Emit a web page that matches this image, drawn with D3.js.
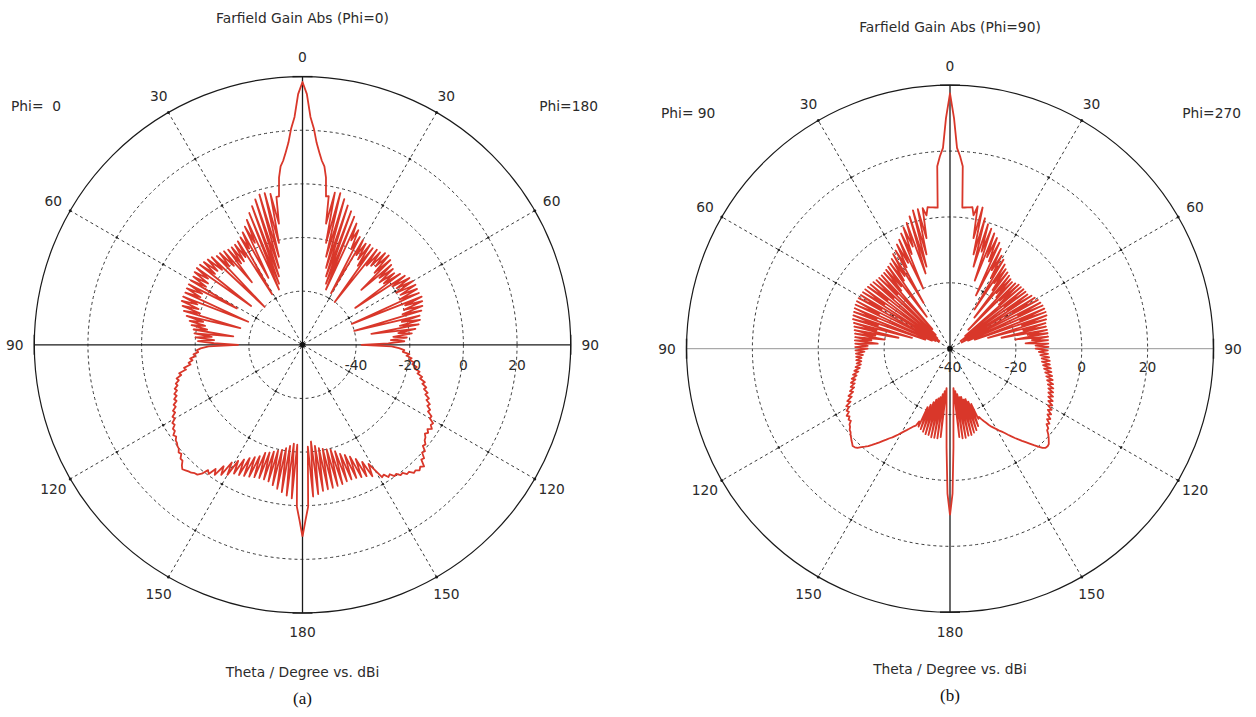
<!DOCTYPE html>
<html><head><meta charset="utf-8">
<script src="https://cdn.jsdelivr.net/npm/d3@7"></script>
<style>body{margin:0;background:#fff}svg{display:block}text{white-space:pre}</style>
</head><body>
<svg id="chart" width="1256" height="717"></svg>
<script>
// ---- data: gain (dBi) vs theta, 1 degree steps 0..180 ----
const thetaStepDeg = 1;
// (a) Phi=0 half (drawn on the left) and Phi=180 half (right)
const aLeft = [
38,33.5,25,20.8,15.5,12,9,7,2.9,-4,
-4,-14,-2.5,-21,-1.7,-26,-1.7,-30,-3,-33,
-5,-35.6,-7,-37.6,-9,-18,-11,-32,-12.5,-19,
-13.8,-38,-14.5,-21,-15,-22,-15.1,-22,-15,-30,
-14.5,-21,-14,-20,-14,-40,-13,-19,-12.5,-18,
-12,-18,-11.5,-36,-11.3,-17,-11.5,-18,-12,-18,
-12,-32,-12,-18,-12,-18,-12.2,-38,-12,-18,
-12.1,-19,-13,-20,-14,-36,-15.5,-22,-17,-23,
-18,-24,-19,-34,-19.5,-26,-20,-27,-21,-27,
-36,-25,-22,-20.5,-21,-19.2,-19.8,-17.8,-18.6,-17,
-17.6,-15,-15.6,-12.8,-13.4,-11.4,-12,-10.6,-11,-9.6,
-10.2,-8.8,-9.4,-8,-8.6,-7,-7.4,-5.8,-6.2,-4.6,
-5,-3.4,-3.8,-2.4,-2.6,-1.2,-1.8,-0.8,-0.6,0,
0.2,1.2,0.8,2.2,2.2,3.6,4.5,4,3.5,3.2,
2.5,2.3,1,-1.5,-0.5,-3.5,-1.5,-6,-2.8,-8.8,
-4,-10.5,-5.6,-12,-6,-13.4,-6.5,-14.5,-7,-15.5,
-7.5,-17.4,-7.8,-18,-7.8,-18.8,-7.5,-19.5,-6.5,-20.1,
-5.5,-21,-4.5,-22,-3.5,-23,-2.6,-22.7,0.4,5.3,
11.5];
const aRight = [
38,33.5,25,20.8,15.5,12,9,7,2.9,-4,
-3.7,-14,-2,-21,-1.7,-26,-3.5,-30,-5.4,-33,
-7,-35.6,-8.5,-37.6,-10.5,-17,-12.5,-20,-14.5,-38,
-15,-21,-15.5,-22,-15,-24,-15.5,-40,-15,-22,
-15,-21,-14,-20,-13.7,-22,-14.5,-30,-15.5,-22,
-16,-23,-16.6,-22,-15,-36,-14,-20,-13,-19,
-12.5,-20,-12.3,-19,-12.5,-20,-12.5,-40,-12.1,-19,
-12.5,-20,-13,-21,-13.9,-40,-15,-22,-15.2,-23,
-16,-34,-17.5,-24,-19,-26,-21,-27,-22,-28,
-38,-26.8,-24,-22,-22.5,-20,-21,-19,-19.8,-17.8,
-18.4,-16.6,-17.2,-15.2,-15.8,-13.8,-14.4,-12.3,-13,-11.2,
-11.8,-10,-10.6,-8.8,-9.4,-7.6,-8.2,-6.6,-7,-5,
-5.2,-3.2,-3.6,-2.5,-3.8,-2.8,-3.6,-2.6,-2.2,-1,
-1.4,0.5,0,2,1.6,4.1,3.2,4,3,3.3,
1.8,2,0.6,0.8,-0.5,-0.2,-1.8,-1.2,-2.9,-2.4,
-6,-9.2,-4.5,-11,-5.5,-13,-6,-14.7,-6.5,-16,
-6.6,-17,-6.5,-18.5,-6,-19.5,-5.8,-20,-5.5,-20.5,
-5.3,-21,-5,-22,-4,-23.8,-3.3,-22,0.4,5.3,
11.5];
// (b) Phi=90 half (left) and Phi=270 half (right)
const bLeft = [
37.5,30,21,18.5,15.5,3,3.1,3.2,3.3,3.5,
1.1,3.5,-5.7,3.5,-10.5,3.5,-14.1,2,-16,0.4,
-7,-0.5,-9,-2,-20,-3.5,-11,-4.5,-12,-5.9,
-24,-6.5,-14,-7.5,-15,-8.4,-28,-8.8,-16,-9.2,
-17,-9.5,-32,-9.6,-17,-9.6,-34,-9.5,-17,-9.2,
-35,-9,-16,-8.8,-36,-8.6,-16,-8.5,-36,-8.4,
-16,-8.3,-35,-8.3,-16,-8.4,-34,-8.6,-16,-8.8,
-32,-9,-17,-9.2,-28,-9.8,-17,-10.2,-24,-10.5,
-17,-10.8,-20,-11,-16,-11,-18,-11.2,-15,-11.2,
-15,-11.3,-14,-11.4,-13.5,-11.4,-13,-11.3,-12.8,-11.3,
-12.5,-10.8,-12,-10.2,-11.3,-9.5,-10.5,-8.8,-9.8,-8.2,
-9.2,-7.7,-8.6,-7,-7.8,-6,-6.8,-5,-5.8,-4,
-4.6,-3.4,-3.8,-2.6,-3.2,-2.4,-2.8,-1.8,-1.5,-0.8,
-0.6,0,0.4,0.9,1.3,1.8,1.6,1.2,0.2,-0.6,
-1.4,-2.4,-3.4,-4.4,-5.4,-6.3,-7.2,-7.9,-8.8,-9.6,
-10.5,-11.3,-12,-12.7,-13.4,-14,-14.4,-16,-14.5,-21,
-14,-22,-13.5,-23,-13,-24,-13,-24.5,-12.5,-25,
-12.5,-26,-12.5,-27,-13,-28,-25,-20,-10,4,
10.5];
const bRight = [
37.5,30,21,18.5,15.5,3,3.1,3.2,3.3,3.5,
1.1,4,-5.7,4,-10.5,1,-14.1,-0.5,-9,-1.5,
-18,-2.5,-10,-3.5,-11,-4.5,-22,-6,-13,-7.7,
-15,-8.5,-26,-9.5,-16,-10.5,-18,-11,-28,-11.5,
-18,-12,-19,-12.4,-32,-12,-19,-11.5,-20,-11.5,
-34,-11.3,-19,-11.3,-36,-11.3,-19,-10.5,-35,-10,
-18,-9.5,-36,-9.2,-17,-9,-34,-8.9,-17,-8.9,
-32,-9,-17,-9.5,-28,-10,-17,-10.1,-24,-10,
-16,-10,-20,-10,-15,-10.1,-17,-10.1,-14,-10.1,
-14,-10.3,-13,-10.2,-12.5,-9.8,-12,-9.5,-11.8,-9.3,
-11.3,-8.8,-10.8,-8.4,-10.2,-7.9,-9.6,-7.4,-9,-6.9,
-8.4,-6.4,-7.8,-6,-7.3,-5.5,-6.8,-5,-6.2,-4.5,
-5.6,-4,-5,-3.4,-4.3,-2.8,-3.6,-2.2,-2.8,-1.6,
-1.5,-0.5,0.3,1,1.7,1.9,1.8,1.2,0,-1.2,
-2.4,-3.5,-4.5,-5.5,-6.5,-7.5,-8.5,-9.5,-10.3,-11,
-11.8,-12.5,-13.2,-14,-15,-15.8,-16.6,-17.5,-17,-22,
-15,-23,-14,-24,-13.5,-24,-13,-25,-13,-25,
-12.5,-26,-12.5,-27,-13,-28,-25,-20,-10,4,
10.5];

const angleTicks = [0, 30, 60, 90, 120, 150, 180];
const spokeAngles = [30, 60, 120, 150];
const gridCirclesA = [-40, -20, 0, 20];
const gridCirclesB = [-20, 0, 20];
const radialLabelsA = [-40, -20, 0, 20];
const radialLabelsB = [-40, -20, 0, 20];
const titles = ["Farfield Gain Abs (Phi=0)", "Farfield Gain Abs (Phi=90)"];
const phiLeft = ["Phi=  0", "Phi= 90"];
const phiRight = ["Phi=180", "Phi=270"];
const axisTitle = "Theta / Degree vs. dBi";
const panelLetters = ["(a)", "(b)"];

// ---- layout ----
const panels = [
  {cx:302.5, cy:344.8, R:268.2, domain:[-60,40], grid:gridCirclesA, labels:radialLabelsA,
   left:aLeft, right:aRight, titleY:17.5, phiY:106, phiLX:11, phiRX:598, axisTitleY:672, letterY:698,
   labelDy:20, hAxisDark:true},
  {cx:950, cy:348.7, R:263.5, domain:[-40,40], grid:gridCirclesB, labels:radialLabelsB,
   left:bLeft, right:bRight, titleY:26.5, phiY:113, phiLX:661, phiRX:1241, axisTitleY:669, letterY:695,
   labelDy:18, hAxisDark:false}
];

const svg = d3.select("#chart");
svg.append("rect").attr("width",1256).attr("height",717).attr("fill","#fff");
const FONT = "DejaVu Sans";
const FS = 13.8;
const TXT = "#2b2b2b";
const rad = d => d * Math.PI / 180;

panels.forEach((p, k) => {
  const r = d3.scaleLinear().domain(p.domain).range([0, p.R]).clamp(true);
  const g = svg.append("g").attr("transform", `translate(${p.cx},${p.cy})`);

  g.selectAll("circle.grid").data(p.grid).join("circle")
    .attr("r", d => r(d)).attr("fill","none")
    .attr("stroke","#3a3a3a").attr("stroke-width",1).attr("stroke-dasharray","3,3");

  g.selectAll("line.spoke").data(spokeAngles).join("line")
    .attr("x1", d => p.R*Math.sin(rad(d))).attr("y1", d => -p.R*Math.cos(rad(d)))
    .attr("x2", d => -p.R*Math.sin(rad(d))).attr("y2", d => p.R*Math.cos(rad(d)))
    .attr("stroke","#3a3a3a").attr("stroke-width",1).attr("stroke-dasharray","3,3");

  const dots = [];
  spokeAngles.forEach(a => [1,-1].forEach(s => {
    p.grid.forEach(v => dots.push({a: s*a, rr: r(v), big:false}));
    dots.push({a: s*a, rr: p.R, big:true});
  }));
  g.selectAll("circle.dot").data(dots).join("circle")
    .attr("cx", d => d.rr*Math.sin(rad(d.a))).attr("cy", d => -d.rr*Math.cos(rad(d.a)))
    .attr("r", d => d.big ? 1.5 : 1.2).attr("fill","#222");

  g.append("line").attr("x1",0).attr("y1",-p.R).attr("x2",0).attr("y2",p.R)
    .attr("stroke","#1a1a1a").attr("stroke-width",1.3);
  g.append("line").attr("x1",-p.R).attr("y1",0).attr("x2",p.R).attr("y2",0)
    .attr("stroke", p.hAxisDark ? "#1a1a1a" : "#8a8a8a").attr("stroke-width", p.hAxisDark ? 1.3 : 0.9);

  g.append("circle").attr("r", p.R).attr("fill","none").attr("stroke","#1a1a1a").attr("stroke-width",1.2);
  [0,90,180,270].forEach(a => {
    const x = p.R*Math.sin(rad(a)), y = -p.R*Math.cos(rad(a));
    const tx = Math.cos(rad(a))*10, ty = Math.sin(rad(a))*10;
    g.append("line").attr("x1",x-tx).attr("y1",y-ty).attr("x2",x+tx).attr("y2",y+ty)
      .attr("stroke","#1a1a1a").attr("stroke-width",1.4);
  });

  const pts = [];
  for (let i = p.left.length-1; i >= 0; i--) pts.push({a: -rad(i*thetaStepDeg), v: p.left[i]});
  for (let i = 1; i < p.right.length; i++) pts.push({a: rad(i*thetaStepDeg), v: p.right[i]});
  const line = d3.lineRadial().angle(d => d.a).radius(d => r(d.v)).curve(d3.curveLinear);
  g.append("path").attr("d", line(pts)).attr("fill","none")
    .attr("stroke","#d9372a").attr("stroke-width",1.8).attr("stroke-linejoin","round");

  g.append("circle").attr("r",2.4).attr("fill","#111").attr("stroke","#111");

  const LR = p.R + 19.5;
  const angLabels = [];
  angleTicks.forEach(a => {
    angLabels.push({a: a, t: String(a)});
    if (a !== 0 && a !== 180) angLabels.push({a: -a, t: String(a)});
  });
  g.selectAll("text.ang").data(angLabels).join("text")
    .attr("x", d => LR*Math.sin(rad(d.a))).attr("y", d => -LR*Math.cos(rad(d.a)))
    .attr("text-anchor","middle").attr("dominant-baseline","central")
    .attr("font-family",FONT).attr("font-size",FS).attr("fill",TXT).text(d => d.t);

  g.selectAll("text.rl").data(p.labels).join("text")
    .attr("x", d => r(d)).attr("y", p.labelDy)
    .attr("text-anchor","middle").attr("dominant-baseline","central")
    .attr("font-family",FONT).attr("font-size",FS).attr("fill",TXT).text(d => d);

  const txt = (x, y, anchor, s) => svg.append("text").attr("x",x).attr("y",y)
    .attr("text-anchor",anchor).attr("dominant-baseline","central")
    .attr("font-family",FONT).attr("font-size",FS).attr("fill",TXT).text(s);
  txt(p.cx, p.titleY, "middle", titles[k]);
  txt(p.phiLX, p.phiY, "start", phiLeft[k]);
  txt(p.phiRX, p.phiY, "end", phiRight[k]);
  txt(p.cx, p.axisTitleY, "middle", axisTitle);
  svg.append("text").attr("x",p.cx).attr("y",p.letterY).attr("text-anchor","middle").attr("dominant-baseline","central")
    .attr("font-family","Liberation Serif").attr("font-size",17).attr("fill","#111").text(panelLetters[k]);
});
</script>
</body></html>
